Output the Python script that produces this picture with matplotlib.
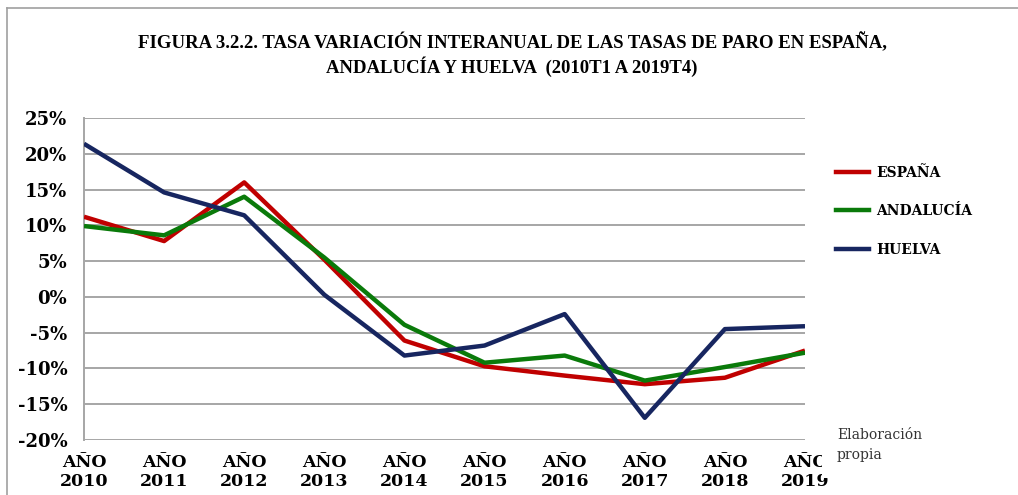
import matplotlib
matplotlib.use("Agg")
import matplotlib.pyplot as plt
from matplotlib.lines import Line2D
from matplotlib.ticker import FuncFormatter

years = ["2010", "2011", "2012", "2013", "2014", "2015", "2016", "2017", "2018", "2019"]
espana = [11.2, 7.8, 16.0, 5.2, -6.1, -9.7, -11.0, -12.2, -11.3, -7.5]
andalucia = [9.9, 8.6, 14.0, 5.5, -3.9, -9.2, -8.2, -11.7, -9.8, -7.8]
huelva = [21.4, 14.6, 11.4, 0.3, -8.2, -6.8, -2.4, -16.9, -4.5, -4.1]
series_names = ["ESPAÑA", "ANDALUCÍA", "HUELVA"]
colors = ["#c00000", "#0a7a0a", "#172660"]

fig = plt.figure(figsize=(10.18, 4.95), dpi=100)
ax = fig.add_axes([84 / 1018, 1 - 440 / 495, (805 - 84) / 1018, (440 - 118) / 495])

x = list(range(len(years)))
for vals, c in zip([espana, andalucia, huelva], colors):
    ax.plot(x, vals, color=c, lw=3.2, solid_capstyle="butt", zorder=3)

ax.set_xlim(0, len(years) - 1)
ax.set_ylim(-20, 25)
ax.set_yticks(range(-20, 26, 5))
ax.yaxis.set_major_formatter(FuncFormatter(lambda v, p: "%d%%" % v))
ax.set_xticks(x)
ax.set_xticklabels(["AÑO\n" + y for y in years], linespacing=1.2)
ax.grid(axis="y", color="#a6a6a6", lw=1.4)
ax.set_axisbelow(True)
for s in ["top", "right", "bottom"]:
    ax.spines[s].set_visible(False)
ax.spines["left"].set_color("#a6a6a6")
ax.spines["left"].set_linewidth(1.4)
ax.tick_params(length=0)
ax.tick_params(axis="y", pad=12)
ax.tick_params(axis="x", pad=10)
for lbl in ax.get_yticklabels():
    lbl.set_fontfamily("DejaVu Serif")
    lbl.set_fontweight("bold")
    lbl.set_fontsize(13)
for lbl in ax.get_xticklabels():
    lbl.set_fontfamily("DejaVu Serif")
    lbl.set_fontweight("bold")
    lbl.set_fontsize(12.5)

fig.text(0.503, 0.89, "FIGURA 3.2.2. TASA VARIACIÓN INTERANUAL DE LAS TASAS DE PARO EN ESPAÑA,\nANDALUCÍA Y HUELVA  (2010T1 A 2019T4)",
         ha="center", va="center", fontfamily="Liberation Serif", fontweight="bold", fontsize=13.5, linespacing=1.25)

handles = [Line2D([], [], color=c, lw=3.2) for c in colors]
fig.legend(handles, series_names, loc="upper left", bbox_to_anchor=(0.809, 0.69), frameon=False,
           handlelength=2.4, labelspacing=1.75, handletextpad=0.5,
           prop={"family": "DejaVu Serif", "weight": "bold", "size": 10})

fig.text(0.822, 0.101, "Elaboración\npropia", ha="left", va="center", fontfamily="DejaVu Serif",
         fontsize=10, linespacing=1.6, color="#333333",
         bbox=dict(facecolor="white", edgecolor="none", pad=11))

fig.add_artist(Line2D([7 / 1018, 7 / 1018], [0, 1 - 8 / 495], color="#a0a0a0", lw=1.2))
fig.add_artist(Line2D([7 / 1018, 1], [1 - 8 / 495, 1 - 8 / 495], color="#a0a0a0", lw=1.2))

fig.savefig("out.png", dpi=100)
